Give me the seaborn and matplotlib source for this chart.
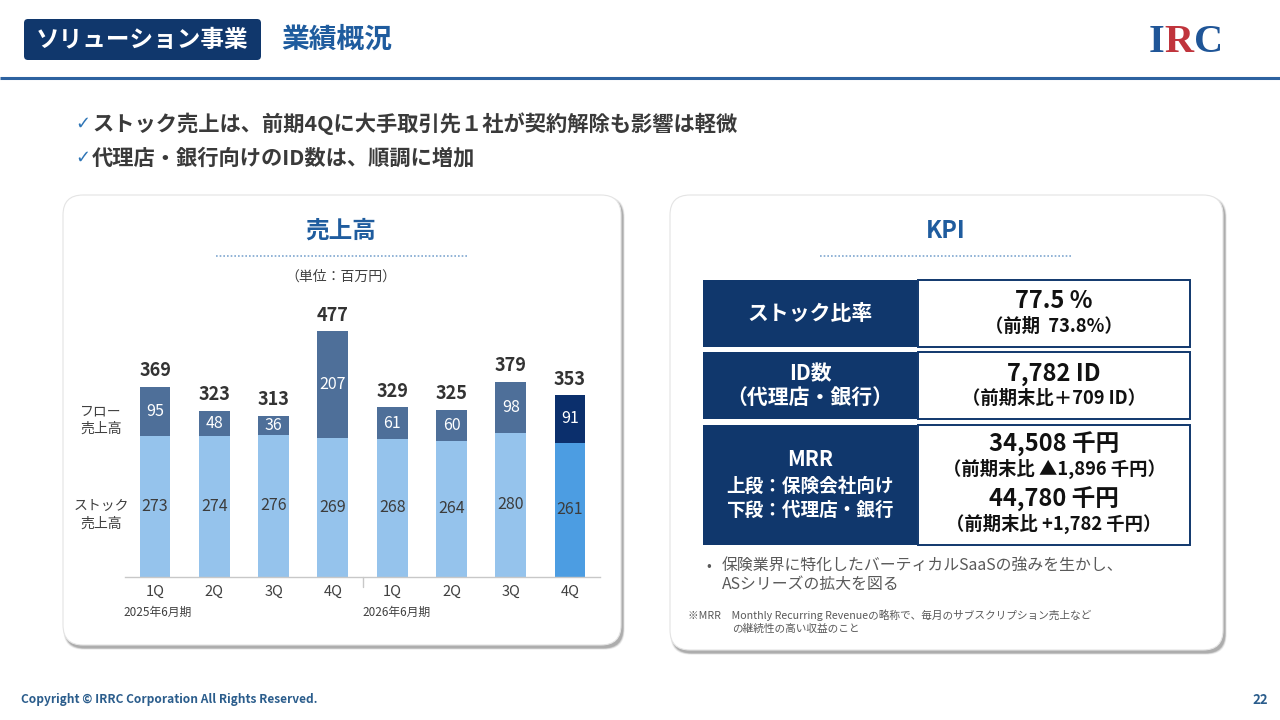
import numpy as np
import pandas as pd
import matplotlib
matplotlib.use("Agg")
import matplotlib.pyplot as plt
import seaborn as sns
from matplotlib.patches import FancyBboxPatch, Rectangle

# ---- data ----
quarters = ["1Q", "2Q", "3Q", "4Q", "1Q", "2Q", "3Q", "4Q"]
periods = ["2025年6月期", "2026年6月期"]
stock_sales = [273, 274, 276, 269, 268, 264, 280, 261]
flow_sales = [95, 48, 36, 207, 61, 60, 98, 91]
total_sales = [369, 323, 313, 477, 329, 325, 379, 353]

bullets = ["ストック売上は、前期4Qに大手取引先１社が契約解除も影響は軽微",
           "代理店・銀行向けのID数は、順調に増加"]

kpi_labels = [["ストック比率"],
              ["ID数", "（代理店・銀行）"],
              ["MRR", "上段：保険会社向け", "下段：代理店・銀行"]]
kpi_values = [["77.5 %", "（前期  73.8%）"],
              ["7,782 ID", "（前期末比＋709 ID）"],
              ["34,508 千円", "（前期末比 ▲1,896 千円）", "44,780 千円", "（前期末比 +1,782 千円）"]]
kpi_note = ["保険業界に特化したバーティカルSaaSの強みを生かし、", "ASシリーズの拡大を図る"]
footnote = ["※MRR　Monthly Recurring Revenueの略称で、毎月のサブスクリプション売上など",
            "の継続性の高い収益のこと"]

# ---- colours ----
NAVY = "#10376c"
TITLE_BLUE = "#1f5c9e"
STOCK_C = "#95c3ec"
FLOW_C = "#4e6f99"
STOCK_LAST = "#4c9de2"
FLOW_LAST = "#0b2f6c"
TXT = "#404040"

sns.set_theme(style="white")
plt.rcParams["font.family"] = ["Noto Sans CJK JP", "DejaVu Sans"]

fig = plt.figure(figsize=(12.8, 7.2), dpi=100)
fig.patch.set_facecolor("white")

# background axes in pixel coordinates for the slide decoration
bg = fig.add_axes([0, 0, 1, 1], zorder=0)
bg.set_xlim(0, 1280)
bg.set_ylim(720, 0)
bg.axis("off")


def panel(x0, y0, x1, y1):
    # soft shadow, then white rounded card
    for k, a in zip(range(6, 0, -1), [0.03, 0.04, 0.05, 0.06, 0.08, 0.10]):
        bg.add_patch(FancyBboxPatch((x0 + 2 - k * 0.3, y0 + 3 - k * 0.3),
                                    x1 - x0 + k * 0.6, y1 - y0 + k * 0.6,
                                    boxstyle="round,pad=0,rounding_size=20",
                                    fc="black", ec="none", alpha=a))
    bg.add_patch(FancyBboxPatch((x0, y0), x1 - x0, y1 - y0,
                                boxstyle="round,pad=0,rounding_size=20",
                                fc="white", ec="#e4e4e4", lw=0.8))


# header
bg.add_patch(FancyBboxPatch((24, 19), 237, 41, boxstyle="round,pad=0,rounding_size=4",
                            fc=NAVY, ec="none"))
bg.text(142.5, 40, "ソリューション事業", color="white", fontsize=17, fontweight="bold",
        ha="center", va="center")
bg.text(281, 40, "業績概況", color=TITLE_BLUE, fontsize=20, fontweight="bold",
        ha="left", va="center")
bg.plot([0, 1280], [78, 78], color="#2d62a0", lw=2.2, solid_capstyle="butt")

# logo
logo_kw = dict(family="Liberation Serif", fontweight="bold", fontsize=29,
               ha="left", va="center")
bg.text(1149, 43, "I", color="#1f5597", **logo_kw)
bg.text(1164, 43, "R", color="#c0343c", **logo_kw)
bg.text(1194, 43, "C", color="#1f5597", **logo_kw)

# bullets
for i, b in enumerate(bullets):
    y = 124 + i * 34
    bg.text(75, y, "✓", color="#2e75b6", fontsize=13, family="DejaVu Sans",
            ha="left", va="center", fontweight="bold")
    bg.text(92, y, b, color="#3a3a3a", fontsize=15.3, fontweight="bold",
            ha="left", va="center")

# cards
panel(63, 195, 621, 645)
panel(670, 195, 1223, 650)

bg.text(341, 231, "売上高", color=TITLE_BLUE, fontsize=17, fontweight="bold",
        ha="center", va="center")
bg.plot([216, 468], [256, 256], color="#7fa7d0", lw=1.2, ls=(0, (1, 1.2)))
bg.text(341, 277, "（単位：百万円）", color=TXT, fontsize=10, ha="center", va="center")

bg.text(946, 231, "KPI", color=TITLE_BLUE, fontsize=17, fontweight="bold",
        ha="center", va="center")
bg.plot([820, 1073], [256, 256], color="#7fa7d0", lw=1.2, ls=(0, (1, 1.2)))

# ---- bar chart ----
keys = [f"{p}{q}" for p, q in zip([periods[0]] * 4 + [periods[1]] * 4, quarters)]
df = pd.DataFrame({"key": keys, "stock": stock_sales, "flow": flow_sales,
                   "total": total_sales})
flow_pal = {k: (FLOW_LAST if i == len(keys) - 1 else FLOW_C) for i, k in enumerate(keys)}
stock_pal = {k: (STOCK_LAST if i == len(keys) - 1 else STOCK_C) for i, k in enumerate(keys)}

ax = fig.add_axes([125.4 / 1280, 143 / 720, 474.3 / 1280, 287 / 720], zorder=2)
ax.patch.set_alpha(0)
sns.barplot(data=df, x="key", y="total", hue="key", palette=flow_pal, order=keys,
            legend=False, width=0.52, saturation=1, linewidth=0, ax=ax)
sns.barplot(data=df, x="key", y="stock", hue="key", palette=stock_pal, order=keys,
            legend=False, width=0.52, saturation=1, linewidth=0, ax=ax)
ax.set_xlim(-0.5, len(keys) - 0.5)
ax.set_ylim(0, 557)
ax.set_xlabel("")
ax.set_ylabel("")
ax.set_yticks([])
ax.set_xticks(range(len(keys)))
ax.set_xticklabels(quarters, fontsize=10.5, color=TXT)
ax.tick_params(axis="x", length=0, pad=6)
for s in ["top", "right", "left"]:
    ax.spines[s].set_visible(False)
ax.spines["bottom"].set_color("#c8c8c8")
ax.spines["bottom"].set_linewidth(1)

for i in range(len(keys)):
    ax.text(i, stock_sales[i] / 2, str(stock_sales[i]), ha="center", va="center",
            fontsize=11.5, color="#3c3c3c")
    ax.text(i, stock_sales[i] + (total_sales[i] - stock_sales[i]) / 2, str(flow_sales[i]),
            ha="center", va="center", fontsize=11.5, color="white")
    ax.annotate(str(total_sales[i]), (i, total_sales[i]), xytext=(0, 11.5),
                textcoords="offset points", ha="center", va="center",
                fontsize=13, fontweight="bold", color="#333333")

# separator between fiscal years and period captions
xt = ax.get_xaxis_transform()
ax.plot([3.5, 3.5], [0, -0.035], color="#c8c8c8", lw=1, transform=xt, clip_on=False)
ax.text(0.05, -0.125, periods[0], transform=xt, ha="center", va="center",
        fontsize=8.5, color=TXT)
ax.text(4.08, -0.125, periods[1], transform=xt, ha="center", va="center",
        fontsize=8.5, color=TXT)

# series captions on the left
bg.text(101, 420, "フロー\n売上高", ha="center", va="center", fontsize=10,
        color=TXT, linespacing=1.3)
bg.text(101, 515, "ストック\n売上高", ha="center", va="center", fontsize=10,
        color=TXT, linespacing=1.3)

# ---- KPI table ----
rows = [(280, 347), (352, 419), (425, 545)]
for (y0, y1), labs, vals in zip(rows, kpi_labels, kpi_values):
    bg.add_patch(Rectangle((703, y0), 214, y1 - y0, fc=NAVY, ec="none"))
    bg.add_patch(Rectangle((918, y0), 272, y1 - y0, fc="white", ec=NAVY, lw=1.4))
    cy = (y0 + y1) / 2
    n = len(labs)
    if n == 1:
        bg.text(810, cy, labs[0], color="white", fontsize=15, fontweight="bold",
                ha="center", va="center")
    elif n == 2:
        bg.text(810, cy - 12, labs[0], color="white", fontsize=15, fontweight="bold",
                ha="center", va="center")
        bg.text(810, cy + 13, labs[1], color="white", fontsize=15, fontweight="bold",
                ha="center", va="center")
    else:
        bg.text(810, cy - 25, labs[0], color="white", fontsize=15, fontweight="bold",
                ha="center", va="center")
        bg.text(810, cy + 1, labs[1], color="white", fontsize=13.4, fontweight="bold",
                ha="center", va="center")
        bg.text(810, cy + 25, labs[2], color="white", fontsize=13.4, fontweight="bold",
                ha="center", va="center")
    if len(vals) == 2:
        bg.text(1054, cy - 12, vals[0], color="#111111", fontsize=17, fontweight="bold",
                ha="center", va="center")
        bg.text(1054, cy + 13, vals[1], color="#111111", fontsize=13.2, fontweight="bold",
                ha="center", va="center")
    else:
        offs = [-41, -16, 14, 39]
        for v, o, fs in zip(vals, offs, [17, 13.2, 17, 13.2]):
            bg.text(1054, cy + o, v, color="#111111", fontsize=fs, fontweight="bold",
                    ha="center", va="center")

bg.text(706, 566, "•", color="#595959", fontsize=10, ha="left", va="center")
bg.text(722, 566, kpi_note[0], color="#595959", fontsize=11.4, ha="left", va="center")
bg.text(722, 585, kpi_note[1], color="#595959", fontsize=11.4, ha="left", va="center")
bg.text(688, 615, footnote[0], color="#595959", fontsize=7.7, ha="left", va="center")
bg.text(732, 629, footnote[1], color="#595959", fontsize=7.7, ha="left", va="center")

# footer
bg.text(21, 700, "Copyright © IRRC Corporation All Rights Reserved.", color="#2b5d8c",
        fontsize=8.6, fontweight="bold", ha="left", va="center")
bg.text(1268, 700, "22", color="#2b5d8c", fontsize=9.5, fontweight="bold",
        ha="right", va="center")

fig.savefig("out.png", dpi=100, facecolor="white")
